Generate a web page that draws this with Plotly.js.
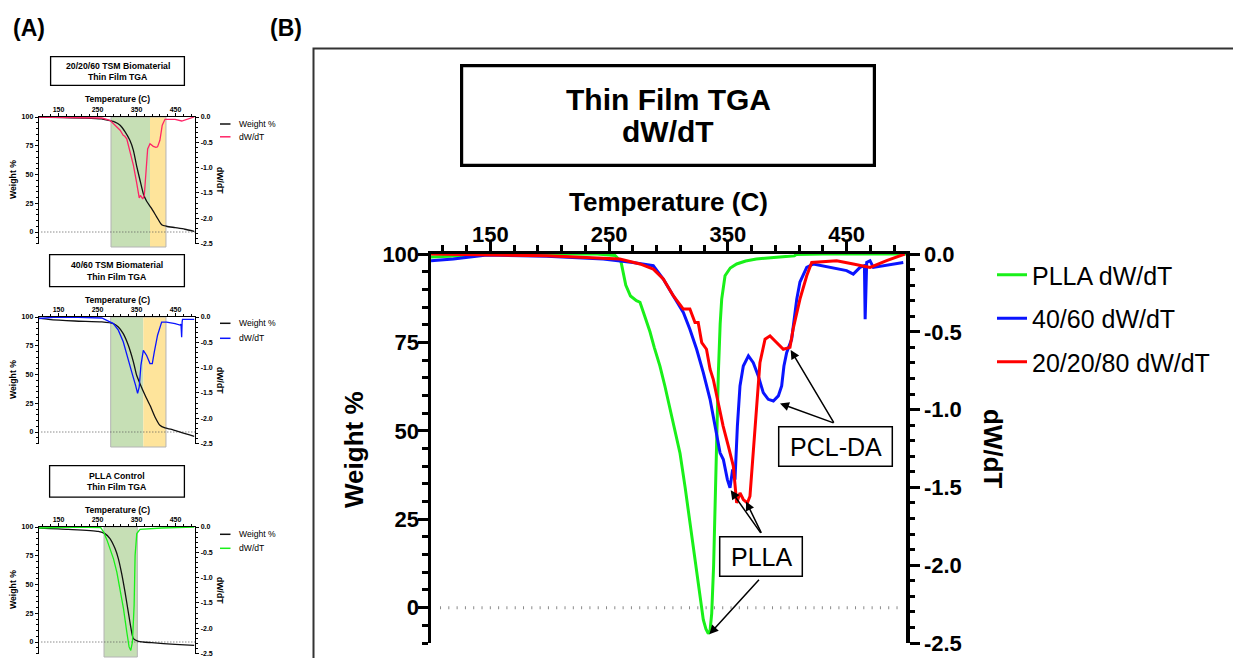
<!DOCTYPE html>
<html>
<head>
<meta charset="utf-8">
<script src="https://cdn.plot.ly/plotly-3.0.1.min.js"></script>
<style>html,body{margin:0;padding:0;background:#fff}#chart{width:1233px;height:658px}</style>
</head>
<body>
<div id="chart"></div>
<script>
// ================= DATA =================
// Tick labels
const tempTicks = [150, 250, 350, 450];
const weightTicks = [0, 25, 50, 75, 100];
const dwdtTicks = [0, -0.5, -1, -1.5, -2, -2.5];
const dwdtTickText = ['0.0', '-0.5', '-1.0', '-1.5', '-2.0', '-2.5'];

// Panel A1 : 20/20/60 TSM Biomaterial
const a1TempW = [100,218,260,278,295,308,320,333,342,350,359,367.5,376,389,402,414.5,427,449,474,498];
const a1Weight = [100,99.1,98.3,97,95.6,92.8,87.5,79.7,71,58,45,33.3,26.7,20.3,13,6.4,5,3.8,2.4,0.6];
const a1TempD = [100,200,261,282,295,308,316,320,325,333,342,350,357,360,363,366,370,374.4,378.6,384.6,393,400,404,410,416,423,449,466,483,498];
const a1Dwdt = [0,-0.005,-0.02,-0.066,-0.16,-0.26,-0.36,-0.38,-0.43,-0.66,-0.95,-1.28,-1.6,-1.55,-1.58,-1.62,-1.55,-1.09,-0.63,-0.53,-0.58,-0.6,-0.59,-0.46,-0.16,-0.046,-0.046,-0.079,-0.033,0];
const a1Shade = [284.6, 384.6, 425.6];   // green start, green end / yellow start, yellow end

// Panel A2 : 40/60 TSM Biomaterial
const a2TempW = [100,124,192,261,290.6,303.4,316,329,342,350.4,359,372,384.6,397.4,410,423,440,466,498];
const a2Weight = [99.1,98,96.5,95.7,94.2,91.3,85.5,75.4,61,49.3,42,32,23.2,13,5.8,3.5,2.3,-0.6,-3.8];
const a2TempD = [100,145,200,261,290.6,303.4,316,329,340,347.7,352.8,357,361.4,367.5,376,384.6,390.5,395.7,404,414.5,427,449,461.5,464,465.8,467,468,498];
const a2Dwdt = [-0.03,0,-0.005,-0.02,-0.13,-0.26,-0.49,-0.82,-1.15,-1.35,-1.51,-1.38,-0.95,-0.66,-0.76,-0.92,-0.92,-0.69,-0.36,-0.1,-0.1,-0.13,-0.16,-0.14,-0.40,-0.1,-0.046,-0.046];
const a2Shade = [283.8, 367.5, 425.6];

// Panel A3 : PLLA Control
const a3TempW = [100,175,252,269,282,295,303.4,312,320.5,329,336,342,355,389,449,498];
const a3Weight = [99.1,98,96.2,94.2,89.9,81.2,72.5,59.4,43.5,26,11.6,2.9,0.6,-0.6,-2,-2.9];
const a3TempD = [100,190,258,265.8,274.4,282,291,299.6,308,316.5,325,331,335.3,339.6,343.9,346.4,350.7,359,414.5,498];
const a3Dwdt = [-0.02,0,-0.01,-0.10,-0.26,-0.43,-0.63,-0.89,-1.22,-1.61,-2.07,-2.37,-2.44,-2.27,-1.55,-0.56,-0.13,-0.046,-0.02,0];
const a3Shade = [266.7, 352.1];

// Panel B : dW/dT overlay
const bTempPLLA = [100,130,160,200,240,255,260,264,268,273,276,280,284.4,288,292.8,297,301,305,309.7,314,318,321,323.7,327,329.3,331.5,333.5,335,336.4,338,339.2,340.5,342,343.5,344.8,347.6,352,357.4,365,374,390,406,407.5,430,470,500];
const bDwdtPLLA = [-0.02,-0.01,0,0,0,-0.01,-0.05,-0.2,-0.27,-0.30,-0.31,-0.40,-0.50,-0.60,-0.72,-0.85,-0.98,-1.12,-1.28,-1.50,-1.73,-1.90,-2.05,-2.22,-2.35,-2.41,-2.44,-2.42,-2.31,-2.0,-1.62,-1.15,-0.76,-0.45,-0.29,-0.14,-0.09,-0.064,-0.045,-0.032,-0.02,-0.012,-0.003,0,0,0];
const bTemp4060 = [100,118.8,147,197.4,245,270,287.2,295.6,304,312.5,318,323.7,329.3,335,339.2,343.4,346.2,349.6,351.8,354,356,358,360.2,363,367.3,371.4,375.6,379.8,384,388.3,392.5,395.3,397.2,399.5,403.7,408,410.7,416.4,422,441.6,450,455.6,461.3,465,465.6,466.9,469.7,472.5,497.7];
const bDwdt4060 = [-0.043,-0.032,-0.006,-0.015,-0.032,-0.054,-0.075,-0.161,-0.268,-0.376,-0.483,-0.612,-0.762,-0.934,-1.106,-1.278,-1.321,-1.45,-1.503,-1.385,-1.45,-1.106,-0.848,-0.72,-0.655,-0.698,-0.784,-0.891,-0.934,-0.945,-0.912,-0.848,-0.72,-0.634,-0.548,-0.29,-0.18,-0.086,-0.064,-0.097,-0.107,-0.129,-0.086,-0.075,-0.419,-0.054,-0.043,-0.086,-0.054];
const bTemp202080 = [100,197.4,259,276,287.2,295.6,304,312.5,318,322.3,325,328,332,335,337.7,342,346,350.4,354.6,357.4,360.2,363,366.4,368.6,371.4,374.3,377,381.3,385.5,391,396.7,402.3,405,410.7,416.4,420.6,441.6,455.6,469.7,483.7,499];
const bDwdt202080 = [0,-0.011,-0.032,-0.064,-0.097,-0.161,-0.268,-0.354,-0.354,-0.44,-0.44,-0.57,-0.612,-0.74,-0.805,-0.955,-1.106,-1.235,-1.364,-1.6,-1.535,-1.578,-1.6,-1.557,-1.278,-0.934,-0.698,-0.548,-0.526,-0.569,-0.612,-0.6,-0.48,-0.29,-0.14,-0.054,-0.043,-0.064,-0.086,-0.043,0];

// Arrow tips in panel B (temperature, dW/dT) with tail offsets in px
const arrowTips = [
  {t: 402.9, v: -0.617, ax: 44, ay: 74},   // PCL-DA -> red
  {t: 393.9, v: -0.960, ax: 55, ay: 20},   // PCL-DA -> blue
  {t: 352.4, v: -1.519, ax: 31, ay: 44},   // PLLA -> blue
  {t: 365.3, v: -1.590, ax: 16, ay: 33},   // PLLA -> red
  {t: 334.4, v: -2.444, ax: 51, ay: -56}   // PLLA -> green
];

// ================= LAYOUT HELPERS =================
const W = 1233, H = 658;
const px = x => x / W;
const py = y => 1 - y / H;
const FONT = 'Arial, "Liberation Sans", Helvetica, sans-serif';
const PINK = '#ff2467', BLUE = '#0a14ff', GREEN = '#19f019', RED = '#ff0000';
const SHADE_G = '#c6dfb5', SHADE_Y = '#fee49b';

function xTop(dom, anchor, s) {
  return {
    domain: dom, anchor: anchor, side: 'top', range: [100, 500],
    tickmode: 'array', tickvals: tempTicks, ticktext: tempTicks.map(String),
    showline: true, linecolor: '#000', linewidth: s.lw,
    ticks: 'outside', ticklen: s.tl, tickwidth: s.tw, tickcolor: '#000', ticklabelstandoff: s.xso,
    minor: {tickmode: 'linear', tick0: 10, dtick: 20, ticks: 'outside', ticklen: s.mtl, tickwidth: s.tw, tickcolor: '#000'},
    tickfont: {family: FONT, size: s.fs, color: '#000', weight: 'bold'},
    showgrid: false, zeroline: false, fixedrange: true
  };
}
function yLeft(dom, anchor, s) {
  return {
    domain: dom, anchor: anchor, range: [-10, 100],
    tickmode: 'array', tickvals: weightTicks, ticktext: weightTicks.map(String),
    showline: true, linecolor: '#000', linewidth: s.lw,
    ticks: 'outside', ticklen: s.tl, tickwidth: s.tw, tickcolor: '#000', ticklabelstandoff: s.yso,
    minor: {tickmode: 'linear', tick0: 0, dtick: 5, ticks: 'outside', ticklen: s.mtl, tickwidth: s.tw, tickcolor: '#000'},
    tickfont: {family: FONT, size: s.fs, color: '#000', weight: 'bold'},
    showgrid: false, zeroline: false, fixedrange: true
  };
}
function yRight(over, anchor, s) {
  return {
    overlaying: over, anchor: anchor, side: 'right', range: [-2.5, 0],
    tickmode: 'array', tickvals: dwdtTicks, ticktext: dwdtTickText,
    showline: true, linecolor: '#000', linewidth: s.lw,
    ticks: 'outside', ticklen: s.tl, tickwidth: s.tw, tickcolor: '#000',
    minor: {tickmode: 'linear', tick0: 0, dtick: 0.1, ticks: 'outside', ticklen: s.mtl, tickwidth: s.tw, tickcolor: '#000'},
    tickfont: {family: FONT, size: s.fs, color: '#000', weight: 'bold'},
    showgrid: false, zeroline: false, fixedrange: true
  };
}

const sA = {lw: 1.3, tl: 3, mtl: 2, tw: 1, fs: 7, xso: -2, yso: 0};
const sB = {lw: 3.5, tl: 10, mtl: 5.5, tw: 3, fs: 22, xso: -10, yso: -6};

const domAx = [px(39), px(195)];
const domBx = [px(431), px(906)];
const domA1 = [py(243.5), py(117)];
const domA2 = [py(443.5), py(317)];
const domA3 = [py(653.5), py(527)];
const domB = [py(643), py(254)];

// ================= TRACES =================
const line = (x, y, xa, ya, color, w, name, extra) => Object.assign({
  type: 'scatter', mode: 'lines', x: x, y: y, xaxis: xa, yaxis: ya, name: name,
  line: {color: color, width: w}, showlegend: false, hoverinfo: 'skip'
}, extra || {});

const data = [
  line(a1TempW, a1Weight, 'x', 'y', '#000', 1.3, 'Weight %', {line: {color: '#111', width: 1.3, shape: 'spline', smoothing: 0.6}}),
  line(a1TempD, a1Dwdt, 'x', 'y2', PINK, 1.3, 'dW/dT'),
  line(a2TempW, a2Weight, 'x2', 'y3', '#000', 1.3, 'Weight %', {line: {color: '#111', width: 1.3, shape: 'spline', smoothing: 0.6}}),
  line(a2TempD, a2Dwdt, 'x2', 'y4', BLUE, 1.3, 'dW/dT'),
  line(a3TempW, a3Weight, 'x3', 'y5', '#000', 1.3, 'Weight %', {line: {color: '#111', width: 1.3, shape: 'spline', smoothing: 0.6}}),
  line(a3TempD, a3Dwdt, 'x3', 'y6', GREEN, 1.3, 'dW/dT'),
  line(bTempPLLA, bDwdtPLLA, 'x4', 'y8', GREEN, 3, 'PLLA dW/dT', {showlegend: true, legendgroup: 'g1'}),
  line(bTemp4060, bDwdt4060, 'x4', 'y8', BLUE, 3, '40/60 dW/dT', {showlegend: true, legendgroup: 'g2'}),
  line(bTemp202080, bDwdt202080, 'x4', 'y8', RED, 3, '20/20/80 dW/dT', {showlegend: true, legendgroup: 'g3'})
];

// ================= SHAPES =================
const shapes = [];
function rectPx(x0, y0, x1, y1, lw, color) {
  shapes.push({type: 'rect', xref: 'paper', yref: 'paper', x0: px(x0), x1: px(x1), y0: py(y1), y1: py(y0),
    line: {color: color || '#000', width: lw}, fillcolor: 'rgba(0,0,0,0)', layer: 'above'});
}
function shade(xa, t0, t1, top, bottom, color) {
  shapes.push({type: 'rect', xref: xa, yref: 'paper', x0: t0, x1: t1, y0: py(bottom), y1: py(top),
    line: {width: 0}, fillcolor: color, layer: 'below'});
}
function shadeOutline(xa, t0, t1, top, bottom) {
  shapes.push({type: 'rect', xref: xa, yref: 'paper', x0: t0, x1: t1, y0: py(bottom), y1: py(top),
    line: {width: 1, color: '#b4b4b4'}, fillcolor: 'rgba(0,0,0,0)', layer: 'below'});
}
shade('x', a1Shade[0], a1Shade[1], 117, 247, SHADE_G);
shade('x', a1Shade[1], a1Shade[2], 117, 247, SHADE_Y);
shadeOutline('x', a1Shade[0], a1Shade[2], 117, 247);
shade('x2', a2Shade[0], a2Shade[1], 317, 447, SHADE_G);
shade('x2', a2Shade[1], a2Shade[2], 317, 447, SHADE_Y);
shadeOutline('x2', a2Shade[0], a2Shade[2], 317, 447);
shade('x3', a3Shade[0], a3Shade[1], 527, 657, SHADE_G);
shadeOutline('x3', a3Shade[0], a3Shade[1], 527, 657);

// zero reference dotted lines
[['x', 'y'], ['x2', 'y3'], ['x3', 'y5']].forEach(([xa, ya]) => {
  shapes.push({type: 'line', xref: xa, yref: ya, x0: 106, x1: 500, y0: 0, y1: 0,
    line: {color: '#555', width: 1, dash: '1px,2px'}, layer: 'below'});
});
shapes.push({type: 'line', xref: 'x4', yref: 'y7', x0: 107.6, x1: 495, y0: 0, y1: 0,
  line: {color: '#8a8a8a', width: 3, dash: '1px,7.3px'}, layer: 'below'});

// panel B frame and boxes
rectPx(313.5, 48.5, 1300, 700, 2, '#333');
rectPx(461.6, 65.6, 874.4, 165.4, 3.2);      // title box B
rectPx(778.7, 426.7, 892.3, 466.3, 1.5);     // PCL-DA
rectPx(719.7, 536.7, 802.3, 576.3, 1.5);     // PLLA
rectPx(50.6, 56.6, 184.4, 85.4, 1.3);        // A1 title box
rectPx(49.6, 254.6, 184.4, 286.7, 1.3);      // A2 title box
rectPx(49.6, 465.6, 184.4, 497.1, 1.3);      // A3 title box

// manual legend swatches for panel A
function legSw(y, color) {
  shapes.push({type: 'line', xref: 'paper', yref: 'paper', x0: px(220), x1: px(230.5), y0: py(y), y1: py(y),
    line: {color: color, width: 1.5}});
}
legSw(124, '#111'); legSw(136.8, PINK);
legSw(323.3, '#111'); legSw(338.3, BLUE);
legSw(534.3, '#111'); legSw(548.3, GREEN);

// ================= ANNOTATIONS =================
const annotations = [];
function txt(t, x, y, size, bold, opts) {
  annotations.push(Object.assign({
    text: t, xref: 'paper', yref: 'paper', x: px(x), y: py(y), xanchor: 'center', yanchor: 'middle',
    showarrow: false, font: {family: FONT, size: size, color: '#000', weight: bold ? 'bold' : 'normal'}
  }, opts || {}));
}
txt('(A)', 29, 28, 23, true);
txt('(B)', 285.5, 28, 23, true);

// Panel A titles
txt('20/20/60 TSM Biomaterial', 117.5, 65.8, 8.7, true);
txt('Thin Film TGA', 117.5, 77, 8.7, true);
txt('40/60 TSM Biomaterial', 117, 265, 8.7, true);
txt('Thin Film TGA', 117, 276.7, 8.7, true);
txt('PLLA Control', 117, 476, 8.7, true);
txt('Thin Film TGA', 117, 487.3, 8.7, true);

[[99, 180], [300, 380], [510, 590]].forEach(([ty, cy]) => {
  txt('Temperature (C)', 117, ty, 8.5, true);
  txt('Weight %', 13, cy, 8.7, true, {textangle: -90});
  txt('dW/dT', 220, cy, 8.7, true, {textangle: 90});
});
function legTxt(t, y) { txt(t, 236.5, y, 8.6, false, {xanchor: 'left'}); }
legTxt('Weight %', 124); legTxt('dW/dT', 136.8);
legTxt('Weight %', 323.3); legTxt('dW/dT', 338.3);
legTxt('Weight %', 534.3); legTxt('dW/dT', 548.3);

// Panel B texts
txt('Thin Film TGA', 668, 99.2, 30, true);
txt('dW/dT', 668, 131, 30, true);
txt('Temperature (C)', 668.5, 202, 26, true);
txt('Weight %', 354, 450, 26, true, {textangle: -90});
txt('dW/dT', 993, 449, 26, true, {textangle: 90});
txt('PCL-DA', 835.5, 446.5, 25, false);
txt('PLLA', 761, 556.5, 25, false);

arrowTips.forEach(a => {
  annotations.push({xref: 'x4', yref: 'y8', x: a.t, y: a.v, ax: a.ax, ay: a.ay, axref: 'pixel', ayref: 'pixel',
    text: '', showarrow: true, arrowhead: 2, arrowsize: 1.2, arrowwidth: 1.5, arrowcolor: '#000', standoff: 0});
});

// ================= LAYOUT =================
const layout = {
  width: W, height: H, margin: {l: 0, r: 0, t: 0, b: 0},
  paper_bgcolor: '#fff', plot_bgcolor: 'rgba(0,0,0,0)',
  font: {family: FONT, color: '#000'},
  showlegend: true, hovermode: false,
  legend: {x: px(992), xanchor: 'left', y: py(252), yanchor: 'top',
    font: {family: FONT, size: 25, color: '#000'}, tracegroupgap: 8, bgcolor: 'rgba(0,0,0,0)', borderwidth: 0},
  xaxis: xTop(domAx, 'y', sA),
  yaxis: yLeft(domA1, 'x', sA),
  yaxis2: yRight('y', 'x', sA),
  xaxis2: xTop(domAx, 'y3', sA),
  yaxis3: yLeft(domA2, 'x2', sA),
  yaxis4: yRight('y3', 'x2', sA),
  xaxis3: xTop(domAx, 'y5', sA),
  yaxis5: yLeft(domA3, 'x3', sA),
  yaxis6: yRight('y5', 'x3', sA),
  xaxis4: xTop(domBx, 'y7', sB),
  yaxis7: yLeft(domB, 'x4', sB),
  yaxis8: yRight('y7', 'x4', sB),
  shapes: shapes,
  annotations: annotations
};

Plotly.newPlot('chart', data, layout, {staticPlot: true, displayModeBar: false});
</script>
</body>
</html>
